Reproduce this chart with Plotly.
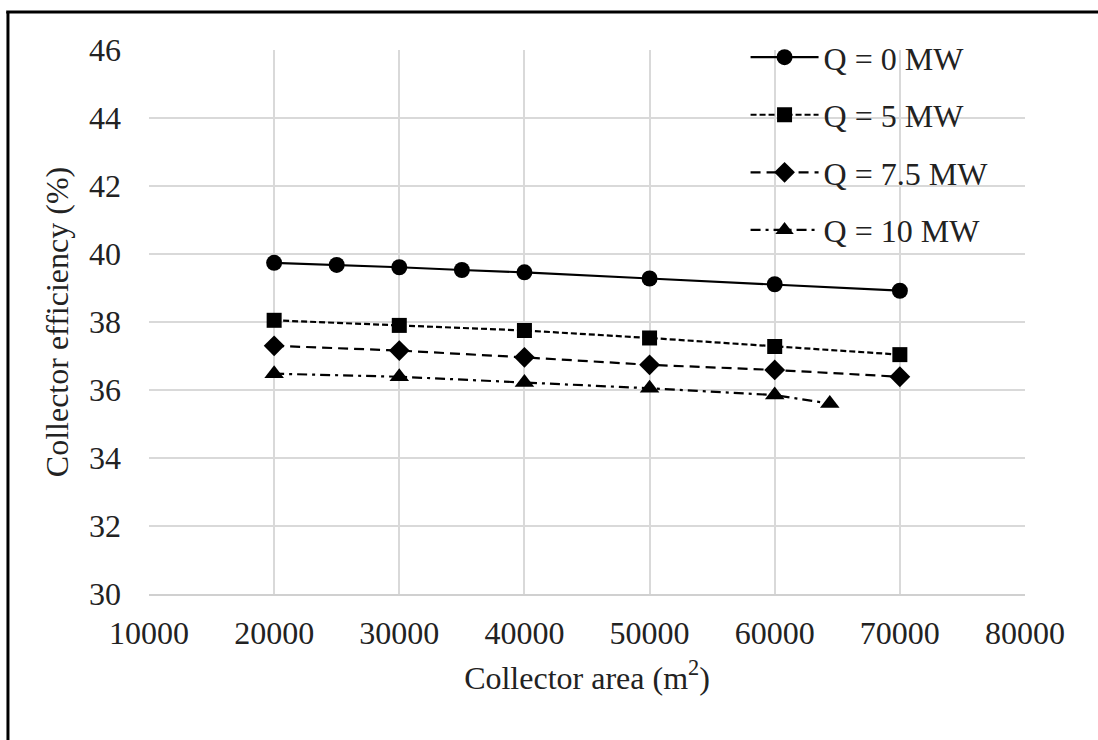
import plotly.graph_objects as go

# Data
area_q0 = [20000, 25000, 30000, 35000, 40000, 50000, 60000, 70000]
eff_q0 = [39.74, 39.68, 39.61, 39.53, 39.46, 39.28, 39.11, 38.92]

area_q5 = [20000, 30000, 40000, 50000, 60000, 70000]
eff_q5 = [38.05, 37.90, 37.75, 37.53, 37.28, 37.04]

area_q75 = [20000, 30000, 40000, 50000, 60000, 70000]
eff_q75 = [37.30, 37.16, 36.96, 36.74, 36.59, 36.39]

area_q10 = [20000, 30000, 40000, 50000, 60000, 64400]
eff_q10 = [36.48, 36.39, 36.22, 36.05, 35.85, 35.60]

x_ticks = [10000, 20000, 30000, 40000, 50000, 60000, 70000, 80000]
y_ticks = [30, 32, 34, 36, 38, 40, 42, 44, 46]

FONT = "Liberation Serif, Times New Roman, serif"
FS = 32
TXT = "#222"

series = [
    ("Q = 0 MW", area_q0, eff_q0, "solid", "circle", 16),
    ("Q = 5 MW", area_q5, eff_q5, "6px,3px", "square", 15),
    ("Q = 7.5 MW", area_q75, eff_q75, "10px,6px", "diamond", 16),
    ("Q = 10 MW", area_q10, eff_q10, "10px,5px,3px,5px", "triangle-up", 17),
]

fig = go.Figure()
for i, (name, xs, ys, dash, sym, ms) in enumerate(series):
    fig.add_trace(go.Scatter(
        x=xs, y=ys, name=name, mode="lines+markers",
        line=dict(color="black", width=2.2, dash=dash),
        marker=dict(symbol=sym, size=ms, color="black"),
        legendgroup=f"g{i}",
    ))

fig.update_layout(
    width=1098, height=740,
    margin=dict(l=149, r=73, t=50, b=146),
    paper_bgcolor="white", plot_bgcolor="white",
    font=dict(family=FONT, size=FS, color=TXT),
    showlegend=True,
    legend=dict(
        x=0.681, y=1.037, xanchor="left", yanchor="top",
        bgcolor="rgba(0,0,0,0)", font=dict(size=FS, family=FONT, color=TXT),
        itemwidth=68, tracegroupgap=13,
    ),
    xaxis=dict(
        range=[10000, 80000], tickvals=x_ticks, tickformat="d",
        showgrid=True, gridcolor="#d9d9d9", gridwidth=2,
        showline=True, linecolor="#d0d0d0", linewidth=2,
        zeroline=False, ticks="", ticklabelstandoff=10,
        tickfont=dict(size=FS, family=FONT, color=TXT),
        title=dict(text="Collector area (m<sup>2</sup>)", standoff=16,
                   font=dict(size=FS, family=FONT, color=TXT)),
    ),
    yaxis=dict(
        range=[30, 46], tickvals=y_ticks,
        showgrid=True, gridcolor="#d9d9d9", gridwidth=2,
        showline=False, zeroline=False, ticks="", ticklabelstandoff=27,
        tickfont=dict(size=FS, family=FONT, color=TXT),
        title=dict(text="Collector efficiency (%)", standoff=10,
                   font=dict(size=FS, family=FONT, color=TXT)),
    ),
)

# Outer frame (left and top edges of the figure border)
fig.add_shape(type="line", xref="paper", yref="paper",
              x0=-0.161, x1=-0.161, y0=1.0699, y1=-0.35,
              line=dict(color="black", width=3))
fig.add_shape(type="line", xref="paper", yref="paper",
              x0=-0.163, x1=1.1, y0=1.0699, y1=1.0699,
              line=dict(color="black", width=3))

fig.write_html("out.html")
